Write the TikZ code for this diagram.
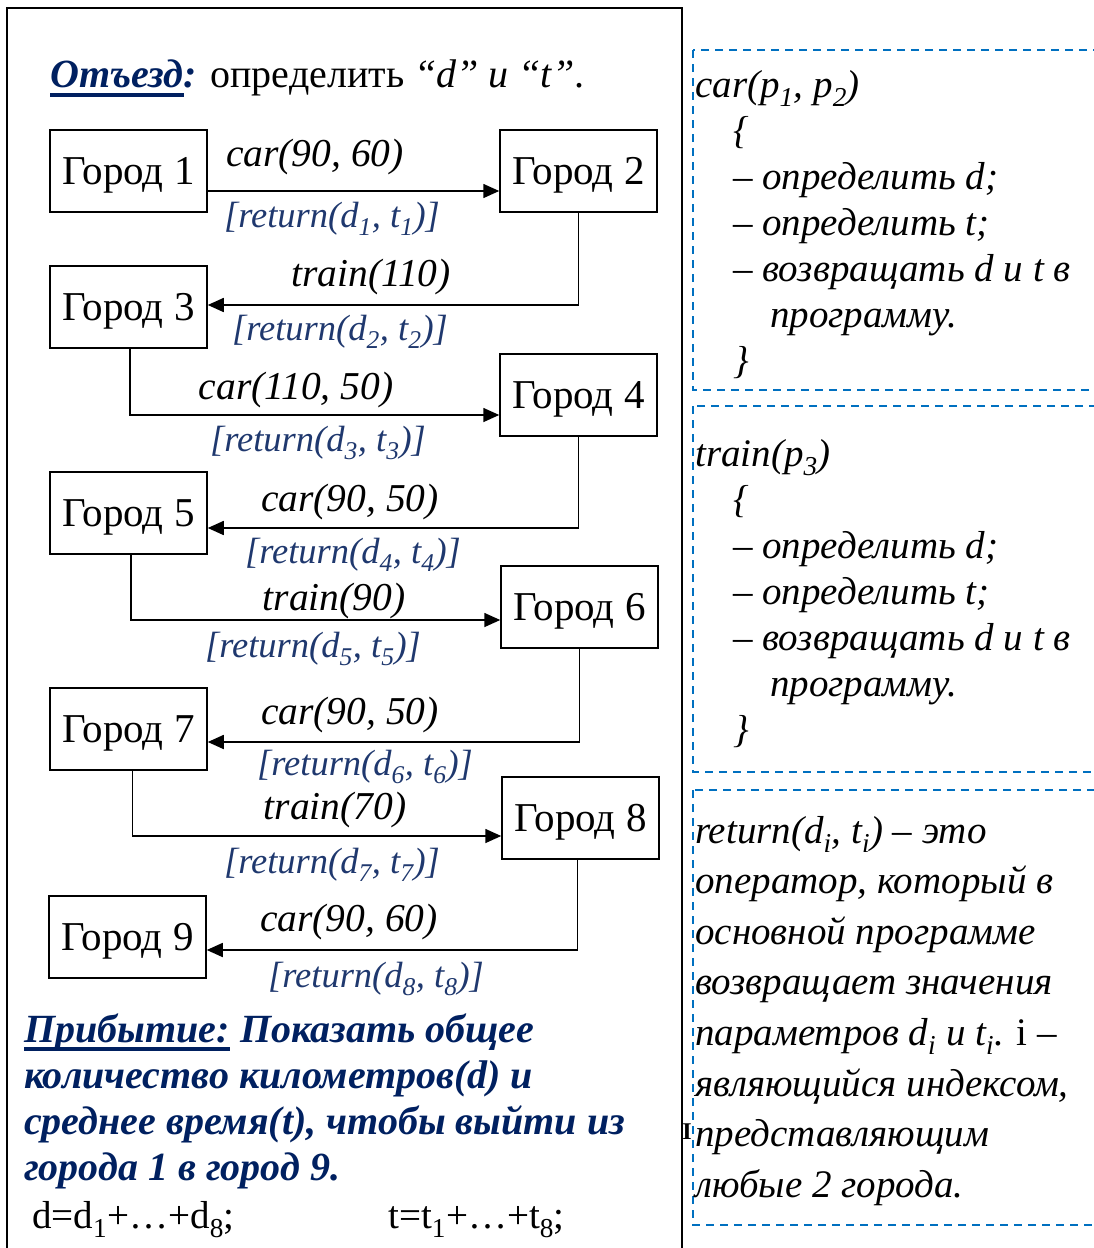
\documentclass[tikz,border=0pt]{standalone}
\usepackage{fontspec}
\setmainfont{Liberation Serif}
\usetikzlibrary{arrows.meta}

\definecolor{navy}{RGB}{0,32,96}
\definecolor{retblue}{RGB}{31,56,110}
\definecolor{dashblue}{RGB}{0,112,192}

\begin{document}
\begin{tikzpicture}[x=1pt,y=-1pt,
  city/.style={draw,line width=1.5pt,minimum width=157pt,minimum height=82pt,inner sep=0pt,text depth=0pt,font=\fontsize{41}{41}\selectfont},
  hop/.style={line width=1.6pt,-{Triangle[length=16pt,width=14pt]}},
  call/.style={font=\fontsize{39.5}{39.5}\selectfont\itshape},
  ret/.style={text=retblue,font=\fontsize{36.5}{36.5}\selectfont\itshape},
  note/.style={anchor=base west,inner sep=0pt,font=\fontsize{39}{39}\selectfont\itshape},
  goal/.style={anchor=base west,inner sep=0pt,text=navy,font=\fontsize{40}{40}\selectfont\bfseries\itshape},
  panel/.style={draw=dashblue,line width=1.8pt,dash pattern=on 8pt off 6pt}]
\clip (0,0) rectangle (1094,1248);

% left frame
\draw[line width=2pt] (7,1260) -- (7,8) -- (682,8) -- (682,1260);

\node[inner sep=0pt,anchor=base west,text=navy,font=\fontsize{40}{40}\selectfont\bfseries\itshape] (depword) at (50,87) {Отъезд};
\node[inner sep=0pt,anchor=base west,font=\fontsize{40}{40}\selectfont] (deprest) at (depword.base east)
  {\textcolor{navy}{\bfseries\itshape:} определить \textit{“d” и “t”}.};
\draw[navy,line width=3.5pt] ([yshift=-8pt]depword.base west) -- ([yshift=-8pt]depword.base east);

% cities
\node[city] (c1) at (128.5,171) {Город 1};
\node[city] (c2) at (578.5,171) {Город 2};
\node[city] (c3) at (128.5,307) {Город 3};
\node[city] (c4) at (578.5,395) {Город 4};
\node[city] (c5) at (128.5,513) {Город 5};
\node[city] (c6) at (579.5,607) {Город 6};
\node[city] (c7) at (128.5,729) {Город 7};
\node[city] (c8) at (580.5,818) {Город 8};
\node[city] (c9) at (127.5,937) {Город 9};

% routes
\draw[hop] ([yshift=-20pt]c1.east) -- ([yshift=-20pt]c2.west);
\draw[hop] (c2.south) |- ([yshift=2pt]c3.east);
\draw[hop] ([xshift=1.5pt]c3.south) |- ([yshift=-20pt]c4.west);
\draw[hop] (c4.south) |- ([yshift=-15pt]c5.east);
\draw[hop] ([xshift=2.5pt]c5.south) |- ([yshift=-13pt]c6.west);
\draw[hop] (c6.south) |- ([yshift=-13pt]c7.east);
\draw[hop] ([xshift=4pt]c7.south) |- ([yshift=-18pt]c8.west);
\draw[hop] ([xshift=-3pt]c8.south) |- ([yshift=-13pt]c9.east);

\node[call] (m1) at (315,157) {car(90, 60)};
\node[call] (m2) at (371,277) {train(110)};
\node[call] (m3) at (296,390) {car(110, 50)};
\node[call] (m4) at (350,502) {car(90, 50)};
\node[call] (m5) at (334,601) {train(90)};
\node[call] (m6) at (350,715) {car(90, 50)};
\node[call] (m7) at (335,810) {train(70)};
\node[call] (m8) at (349,922) {car(90, 60)};

\foreach \x/\y [count=\i] in {332/219, 340/332, 318/443, 353/555, 313/649, 365/767, 332/865, 376/979}
  \node[ret] (r\i) at (\x,\y) {[return(d\textsubscript{\i}, t\textsubscript{\i})]};

% arrival
\node[goal] (arrword) at (24,1042) {Прибытие:};
\node[goal] (arr1) at (arrword.base east) {\ Показать общее};
\draw[navy,line width=3.5pt] ([yshift=-7pt]arrword.base west) -- ([yshift=-7pt]arrword.base east);
\foreach \txt [count=\i from 2] in {{количество километров(d) и}, {среднее время(t), чтобы выйти из}, {города 1 в город 9.}}
  \node[goal] (arr\i) at (24,1042+46*\i-46) {\txt};

\node[anchor=base west,inner sep=0pt,font=\fontsize{39}{39}\selectfont] (sumd) at (32,1228) {d=d\textsubscript{1}+…+d\textsubscript{8};};
\node[anchor=base west,inner sep=0pt,font=\fontsize{39}{39}\selectfont] (sumt) at (388,1228) {t=t\textsubscript{1}+…+t\textsubscript{8};};

% function panels
\draw[panel] (693,50) rectangle (1110,390);
\draw[panel] (693,406) rectangle (1110,772);
\draw[panel] (693,790) rectangle (1110,1225);

\foreach \dy/\fn/\head in {0/car/{car(p\textsubscript{1}, p\textsubscript{2})}, 369/train/{train(p\textsubscript{3})}} {
  \node[note] (\fn0) at (695,97+\dy) {\head};
  \foreach \x/\y/\txt [count=\i] in {733/143/\{, 733/189/{– определить d;}, 733/235/{– определить t;},
      733/281/{– возвращать d и t в}, 770/327/{программу.}, 733/373/\}}
    \node[note] (\fn\i) at (\x,\y+\dy) {\txt};
}

\foreach \txt [count=\i from 0] in {{return(d\textsubscript{i}, t\textsubscript{i}) – это}, {оператор, который в},
    {основной программе}, {возвращает значения}, {параметров d\textsubscript{i} и t\textsubscript{i}. \textup{i} –},
    {являющийся индексом,}, {представляющим}, {любые 2 города.}}
  \node[note] (info\i) at (695,843+50.6*\i) {\txt};

\node[inner sep=0pt,font=\fontsize{24}{24}\selectfont\bfseries] (cursor) at (687,1132) {I};
\end{tikzpicture}
\end{document}
